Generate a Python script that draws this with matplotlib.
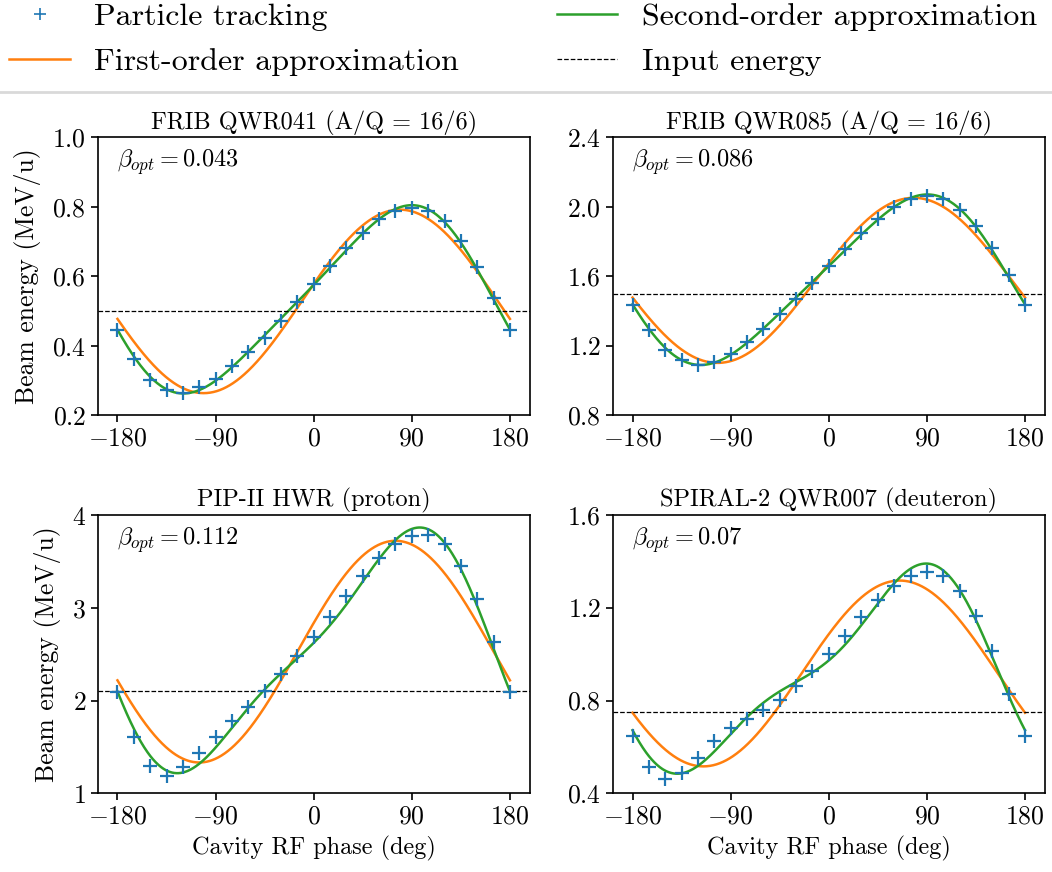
import numpy as np
import matplotlib
matplotlib.use("Agg")
import matplotlib.pyplot as plt
from matplotlib.lines import Line2D

plt.rcParams["font.family"] = "cmr10"
plt.rcParams["mathtext.fontset"] = "cm"
plt.rcParams["axes.formatter.use_mathtext"] = True

# cavity RF phase of the tracked points (deg)
phase = np.arange(-180, 181, 15)

titles = ["FRIB QWR041 (A/Q = 16/6)", "FRIB QWR085 (A/Q = 16/6)",
          "PIP-II HWR (proton)", "SPIRAL-2 QWR007 (deuteron)"]
beta_opt = ["0.043", "0.086", "0.112", "0.07"]
w_input = [0.5, 1.5, 2.1, 0.75]

# particle tracking results (MeV/u)
track_qwr041 = [0.445, 0.361, 0.303, 0.274, 0.265, 0.281, 0.305, 0.341, 0.382, 0.424, 0.472, 0.525, 0.578,
                0.630, 0.681, 0.726, 0.765, 0.789, 0.797, 0.789, 0.758, 0.702, 0.628, 0.538, 0.445]
track_qwr085 = [1.437, 1.291, 1.175, 1.118, 1.090, 1.110, 1.156, 1.225, 1.298, 1.381, 1.472, 1.560, 1.661,
                1.757, 1.849, 1.930, 2.000, 2.046, 2.065, 2.046, 1.984, 1.888, 1.763, 1.605, 1.437]
track_hwr = [2.094, 1.602, 1.296, 1.188, 1.278, 1.429, 1.609, 1.785, 1.936, 2.105, 2.285, 2.483, 2.691,
             2.903, 3.123, 3.345, 3.533, 3.687, 3.777, 3.784, 3.687, 3.453, 3.101, 2.627, 2.094]
track_qwr007 = [0.646, 0.514, 0.462, 0.488, 0.552, 0.627, 0.680, 0.722, 0.761, 0.804, 0.862, 0.928, 1.003,
                1.080, 1.161, 1.233, 1.296, 1.336, 1.354, 1.336, 1.275, 1.164, 1.013, 0.830, 0.646]
tracking = [track_qwr041, track_qwr085, track_hwr, track_qwr007]

# first-order model: W0 + dW*cos(phi - phi_peak)
first_w0 = [0.528, 1.577, 2.528, 0.917]
first_dw = [0.264, 0.475, 1.196, 0.401]
first_peak = [79, 78, 75, 65]

# second-order model: c0 + a1 cos + b1 sin + a2 cos2 + b2 sin2
second_coef = [
    [0.5316, 0.0644, 0.2525, -0.0207, -0.0323],
    [1.5795, 0.1100, 0.4613, -0.0304, -0.0572],
    [2.5164, 0.2623, 1.1795, -0.1559, -0.2516],
    [0.9230, 0.1505, 0.3680, -0.1003, -0.0704],
]

ylims = [(0.2, 1.0), (0.8, 2.4), (1, 4), (0.4, 1.6)]
ysteps = [0.2, 0.4, 1, 0.4]

fig, axs = plt.subplots(2, 2, figsize=(10.52, 8.72), dpi=100)
fig.subplots_adjust(left=0.093, right=0.993, top=0.8425, bottom=0.0903,
                    wspace=0.193, hspace=0.359)

phi = np.linspace(-180, 180, 721)
rad = np.deg2rad(phi)

for i, ax in enumerate(axs.flat):
    ax.plot(phase, tracking[i], "+", color="tab:blue", ms=9.5, mew=1.6, zorder=3)
    w1 = first_w0[i] + first_dw[i] * np.cos(rad - np.deg2rad(first_peak[i]))
    ax.plot(phi, w1, color="tab:orange", lw=1.8)
    c = second_coef[i]
    w2 = c[0] + c[1] * np.cos(rad) + c[2] * np.sin(rad) + c[3] * np.cos(2 * rad) + c[4] * np.sin(2 * rad)
    ax.plot(phi, w2, color="tab:green", lw=1.8)
    ax.axhline(w_input[i], color="black", ls="--", lw=0.9)

    ax.set_ylim(*ylims[i])
    ax.set_yticks(np.arange(ylims[i][0], ylims[i][1] + 1e-9, ysteps[i]))
    ax.set_xticks([-180, -90, 0, 90, 180])
    ax.tick_params(labelsize=18.5, length=5, width=1.2)
    for s in ax.spines.values():
        s.set_linewidth(1.2)
    ax.set_title(titles[i], fontsize=17.5)
    ax.text(0.045, 0.91, r"$\beta_{opt} = $" + "$" + beta_opt[i] + "$", transform=ax.transAxes,
            fontsize=17.5, va="center")
    if i % 2 == 0:
        ax.set_ylabel("Beam energy (MeV/u)", fontsize=18.5, labelpad=8)
    if i >= 2:
        ax.set_xlabel("Cavity RF phase (deg)", fontsize=17.5, labelpad=5)

handles = [
    Line2D([], [], ls="none", marker="+", color="tab:blue", ms=8, mew=1.2),
    Line2D([], [], color="tab:orange", lw=1.8),
    Line2D([], [], color="tab:green", lw=1.8),
    Line2D([], [], color="black", ls="--", lw=0.9),
]
labels = ["Particle tracking", "First-order approximation",
          "Second-order approximation", "Input energy"]
fig.legend(handles, labels, loc="upper left", bbox_to_anchor=(-0.0185, 1.03), ncol=2,
           frameon=False, fontsize=23, handlelength=1.9, handletextpad=0.76,
           columnspacing=3.05, labelspacing=0.52)
fig.add_artist(Line2D([0.0, 1.0], [0.894, 0.894], transform=fig.transFigure,
                      color="0.85", lw=2))

fig.savefig("out.png")
